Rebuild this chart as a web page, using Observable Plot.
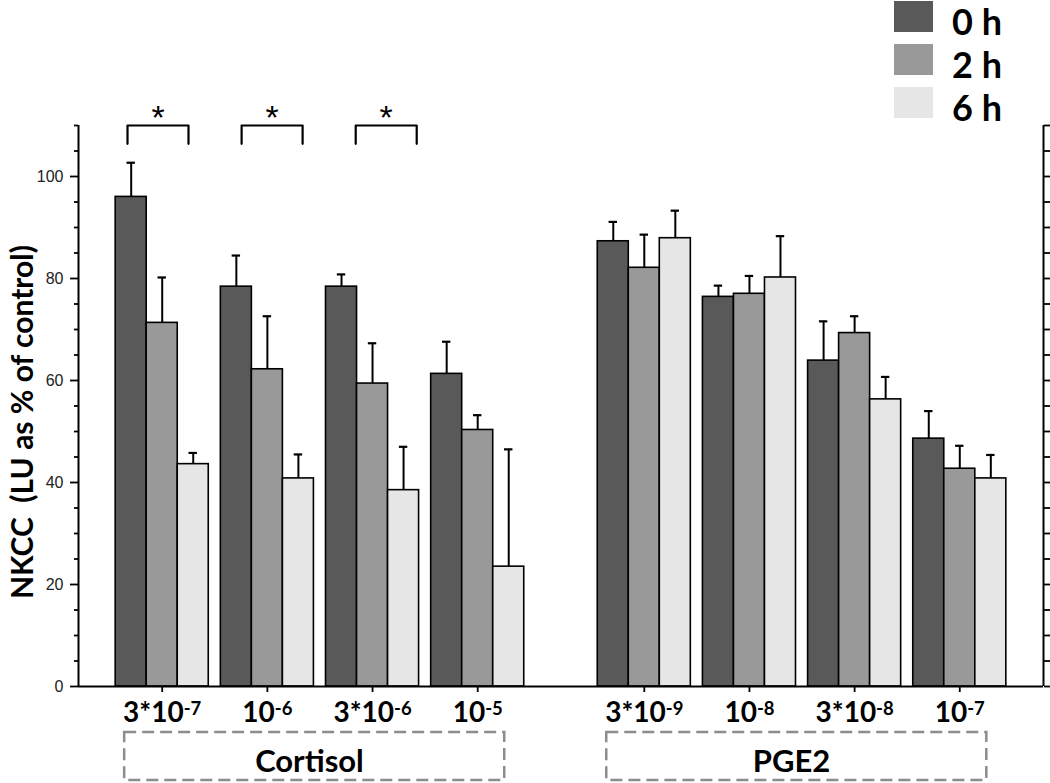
<!DOCTYPE html>
<html>
<head>
<meta charset="utf-8">
<script src="https://cdn.jsdelivr.net/npm/d3@7"></script>
<script src="https://cdn.jsdelivr.net/npm/@observablehq/plot@0.6"></script>
<style>
  html, body { margin: 0; padding: 0; background: #fff; }
  #wrap { position: relative; width: 1050px; height: 783px; }
  #legend { position: absolute; left: 894px; top: -5px; font-family: Lato, "Open Sans", sans-serif; font-weight: 700; }
  .li { display: flex; align-items: center; height: 43px; }
  .sw { width: 39px; height: 31px; margin-right: 19px; }
  .lt { font-size: 36px; line-height: 31px; color: #000; position: relative; top: 5px; }
  svg text.ylab { white-space: pre; }
</style>
</head>
<body>
<div id="wrap"><div id="chart"></div><div id="legend"></div></div>
<script>
// ---- data ----
const groups = ["3*10^-7", "10^-6", "3*10^-6", "10^-5", "3*10^-9", "10^-8", "3*10^-8", "10^-7"];
const groupTreatment = ["Cortisol", "Cortisol", "Cortisol", "Cortisol", "PGE2", "PGE2", "PGE2", "PGE2"];
const treatments = ["Cortisol", "PGE2"];
const times = ["0 h", "2 h", "6 h"];
const mean0h = [96.0, 78.4, 78.4, 61.3, 87.3, 76.4, 63.9, 48.6];
const mean2h = [71.3, 62.2, 59.4, 50.3, 82.1, 77.0, 69.3, 42.7];
const mean6h = [43.6, 40.8, 38.5, 23.5, 87.9, 80.2, 56.3, 40.8];
const err0h = [6.7, 6.1, 2.4, 6.3, 3.8, 2.2, 7.7, 5.4];
const err2h = [8.9, 10.4, 7.9, 2.9, 6.5, 3.5, 3.3, 4.5];
const err6h = [2.2, 4.7, 8.5, 23.0, 5.4, 8.1, 4.4, 4.6];
const sigGroups = ["3*10^-7", "10^-6", "3*10^-6"]; // 0 h vs 6 h, p < 0.05
const colors = ["#595959", "#999999", "#e6e6e6"];
const yLabel = "NKCC  (LU as % of control)";

// ---- layout helpers ----
const means = [mean0h, mean2h, mean6h];
const errs = [err0h, err2h, err6h];
const treatGap = 0.584;      // extra space between the two treatments
const barW = 0.295;          // bar width in group units
const pos = groups.map((g, i) => i + (groupTreatment[i] !== treatments[0] ? treatGap : 0));
const xmin = -0.796, xmax = pos[pos.length - 1] + 0.796;
const pxPerUnit = (686 - 125) / 110;
const toY = px => -px / pxPerUnit;  // offset below baseline, in y units

const bars = [];
groups.forEach((g, i) => times.forEach((t, k) => {
  const x1 = pos[i] + (k - 1.5) * barW;
  bars.push({group: g, time: t, x1, x2: x1 + barW, xc: x1 + barW / 2, v: means[k][i], e: errs[k][i], color: colors[k]});
}));

const brackets = [];
sigGroups.forEach((g, j) => {
  const i = groups.indexOf(g);
  const c = pos[i] - 0.04 + 0.085 * j;
  brackets.push({id: g, x: c - 0.29, y: 106.4});
  brackets.push({id: g, x: c - 0.29, y: 110});
  brackets.push({id: g, x: c + 0.29, y: 110});
  brackets.push({id: g, x: c + 0.29, y: 106.4});
});
const stars = sigGroups.map((g, j) => ({x: pos[groups.indexOf(g)] - 0.04 + 0.085 * j, t: "*"}));

const boxes = treatments.map(t => {
  const ps = pos.filter((p, i) => groupTreatment[i] === t);
  return {t, x1: d3.min(ps) - 0.357, x2: d3.max(ps) + 0.257, y1: toY(46), y2: toY(94), xm: (d3.min(ps) + d3.max(ps)) / 2 - 0.1, ym: toY(76)};
});
const ticks = groups.map((g, i) => ({x: pos[i], label: g}));

const major = d3.range(0, 101, 20);
const minor = d3.range(5, 111, 5).filter(v => v % 20 !== 0);
const allT = d3.range(0, 111, 5);

const chart = Plot.plot({
  width: 1050, height: 783,
  marginLeft: 78, marginRight: 7, marginTop: 125, marginBottom: 97,
  x: {domain: [xmin, xmax], axis: null},
  y: {domain: [0, 110], axis: null},
  style: {fontFamily: "Lato, 'Open Sans', sans-serif", background: "white", color: "#000"},
  marks: [
    Plot.rect(bars, {x1: "x1", x2: "x2", y1: 0, y2: "v", fill: "color", stroke: "#000", strokeWidth: 1.6}),
    Plot.ruleX(bars, {x: "xc", y1: "v", y2: d => d.v + d.e, stroke: "#000", strokeWidth: 2}),
    Plot.ruleY(bars, {x1: d => d.xc - 0.04, x2: d => d.xc + 0.04, y: d => d.v + d.e, stroke: "#000", strokeWidth: 2.2}),
    Plot.axisY({ticks: major, tickSize: 8, tickPadding: 7, strokeWidth: 1.8, fontSize: 16, fontFamily: "'Liberation Sans', Arial, sans-serif", fill: "#222", tickFormat: d3.format("d"), label: null}),
    Plot.axisY({ticks: minor, tickSize: 4, strokeWidth: 1.8, tickFormat: () => "", label: null}),
    Plot.axisY({anchor: "right", ticks: allT, tickSize: 6, strokeWidth: 1.8, tickFormat: () => "", label: null}),
    Plot.ruleX([xmin, xmax], {y1: 0, y2: 110, stroke: "#000", strokeWidth: 2}),
    Plot.ruleY([0], {stroke: "#000", strokeWidth: 2}),
    Plot.axisX({ticks: pos, tickSize: 6, strokeWidth: 1.8, tickFormat: () => "", label: null}),
    Plot.text(ticks, {x: "x", text: "label", frameAnchor: "bottom", lineAnchor: "top", dy: 16, fontSize: 28, fontWeight: "bold", fill: "#000"}),
    Plot.line(brackets, {x: "x", y: "y", z: "id", stroke: "#000", strokeWidth: 2.2}),
    Plot.text(stars, {x: "x", y: 110, text: "t", lineAnchor: "bottom", dy: 3, fontSize: 34, fontFamily: "'Liberation Sans', Arial, sans-serif", fill: "#000"}),
    Plot.rect(boxes, {x1: "x1", x2: "x2", y1: "y1", y2: "y2", fill: "none", stroke: "#8c8c8c", strokeWidth: 2.5, strokeDasharray: "12,6"}),
    Plot.text(boxes, {x: "xm", y: "ym", text: "t", fontSize: 31, fontWeight: "bold", fill: "#000"}),
    Plot.text([yLabel], {frameAnchor: "left", textAnchor: "middle", rotate: -90, dx: -55, dy: 16, fontSize: 30, fontWeight: "bold", fill: "#000"})
  ]
});

// superscript exponents in tick labels; keep double space in y label
d3.select(chart).selectAll("text").each(function() {
  const el = d3.select(this);
  if (this.querySelector("tspan")) return;
  const s = this.textContent;
  if (s === yLabel) el.attr("class", "ylab").attr("xml:space", "preserve");
  if (s.includes("^")) {
    const [base, exp] = s.split("^");
    el.text(base);
    el.append("tspan").attr("dy", "-0.42em").attr("font-size", "0.66em").text(exp);
  }
});
document.getElementById("chart").appendChild(chart);

// legend
const lg = d3.select("#legend");
times.forEach((t, k) => {
  const row = lg.append("div").attr("class", "li");
  row.append("div").attr("class", "sw").style("background", colors[k]);
  row.append("div").attr("class", "lt").text(t);
});
</script>
</body>
</html>
